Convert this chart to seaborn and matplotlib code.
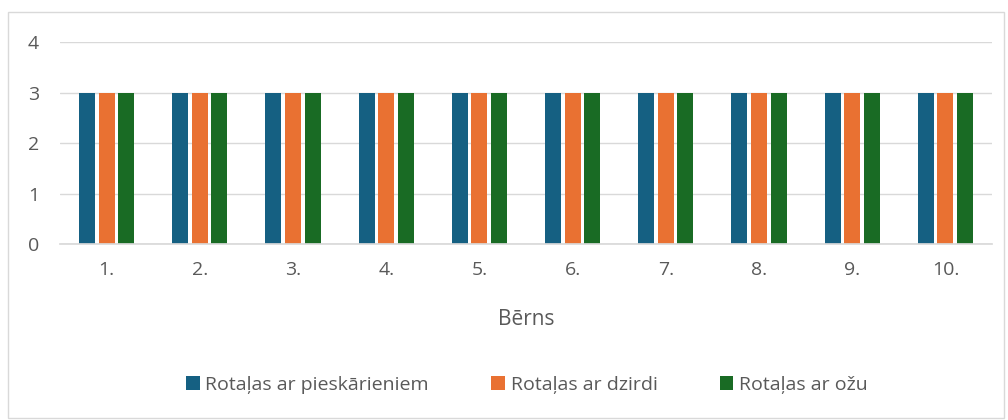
import matplotlib
matplotlib.use("Agg")
import matplotlib.pyplot as plt
import seaborn as sns
import pandas as pd
from matplotlib.patches import Rectangle

categories = ["1.", "2.", "3.", "4.", "5.", "6.", "7.", "8.", "9.", "10."]
series_names = ["Rotaļas ar pieskārieniem", "Rotaļas ar dzirdi", "Rotaļas ar ožu"]
touch = [3, 3, 3, 3, 3, 3, 3, 3, 3, 3]
hearing = [3, 3, 3, 3, 3, 3, 3, 3, 3, 3]
smell = [3, 3, 3, 3, 3, 3, 3, 3, 3, 3]
colors = ["#156082", "#E97132", "#196B24"]

rows = []
for name, vals in zip(series_names, [touch, hearing, smell]):
    for c, v in zip(categories, vals):
        rows.append({"Bērns": c, "Sērija": name, "Vērtība": v})
df = pd.DataFrame(rows)

sns.set_theme(style="white")
plt.rcParams["font.family"] = ["Open Sans", "DejaVu Sans"]

fig = plt.figure(figsize=(10.08, 4.2), dpi=100)
ax = fig.add_axes([60/1008, 1-244/420, 932/1008, 202/420])
sns.barplot(data=df, x="Bērns", y="Vērtība", hue="Sērija", palette=colors,
            width=0.63, gap=0.18, saturation=1, linewidth=0, ax=ax, legend=True)
ax.set_ylim(0, 4)
ax.set_xlim(-0.5, len(categories) - 0.5)
ax.set_yticks([0, 1, 2, 3, 4])
ax.yaxis.grid(True, color="#D9D9D9", linewidth=1)
ax.set_axisbelow(True)
for s in ["top", "right", "left"]:
    ax.spines[s].set_visible(False)
ax.spines["bottom"].set_color("#D9D9D9")
ax.tick_params(axis="both", length=0, labelsize=14, labelcolor="#595959", pad=12)
ax.tick_params(axis="y", pad=15)
ax.set_ylabel("")
ax.set_xlabel("Bērns", fontsize=15, color="#595959", labelpad=22)

handles, labels = ax.get_legend_handles_labels()
ax.legend_.remove()
fig.legend(handles, labels, loc="center", bbox_to_anchor=(527/1008, 1-385/420),
           ncol=3, frameon=False, fontsize=14, labelcolor="#595959",
           handlelength=0.7, handleheight=0.7, handletextpad=0.3, columnspacing=3.2)

fig.patches.append(Rectangle((8/1008, 2/420), 996/1008, 406/420, transform=fig.transFigure,
                             fill=False, edgecolor="#D9D9D9", linewidth=1))
fig.savefig("out.png", dpi=100)
